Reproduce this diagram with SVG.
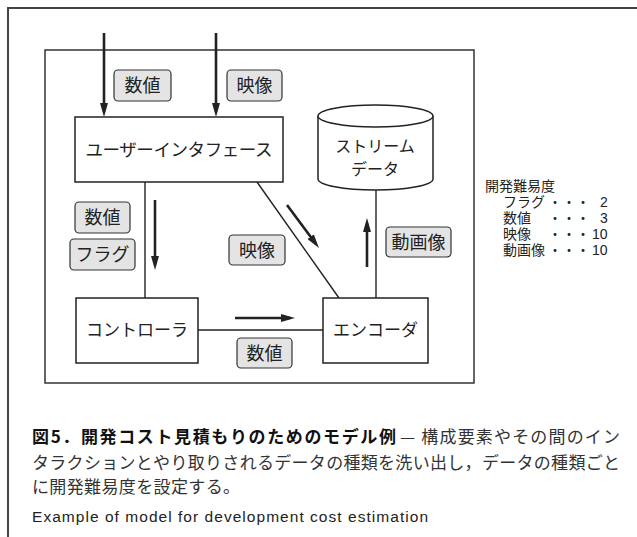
<svg xmlns="http://www.w3.org/2000/svg" width="637" height="537" viewBox="0 0 637 537">
<style>
.frame{fill:none;stroke:#444;stroke-width:2}
.inner{fill:none;stroke:#333;stroke-width:1.5}
.box{fill:#fff;stroke:#222;stroke-width:1.5}
.lbl{fill:#e4e4e4;stroke:#333;stroke-width:1.2}
.ln{fill:none;stroke:#222;stroke-width:1.4}
.arr{fill:none;stroke:#222;stroke-width:2.6;marker-end:url(#ah)}
.t{font-family:"Noto Sans CJK JP","Noto Sans",sans-serif;fill:#222;text-anchor:middle}
.lg{font-family:"Liberation Sans","Noto Sans CJK JP",sans-serif;fill:#222;font-size:14px}
.cap{font-family:"Noto Sans CJK JP",sans-serif;font-size:17px}
</style>
<defs>
<marker id="ah" markerUnits="userSpaceOnUse" markerWidth="15" markerHeight="8" refX="9" refY="4" orient="auto">
<path d="M0,0 L14,4 L0,8 z" fill="#222"/>
</marker>
</defs>
<rect width="637" height="537" fill="#fff"/>
<path class="frame" d="M8,537 V8 H637"/>
<rect class="inner" x="45" y="50" width="429" height="333"/>

<g id="connectors">
<line class="ln" x1="145" y1="182" x2="145" y2="298"/>
<line class="ln" x1="257" y1="182" x2="339" y2="298"/>
<line class="ln" x1="376" y1="190" x2="376" y2="298"/>
<line class="ln" x1="198" y1="330" x2="323" y2="330"/>
<line class="arr" x1="104" y1="33" x2="104" y2="112"/>
<line class="arr" x1="216" y1="33" x2="216" y2="112"/>
<line class="arr" x1="155" y1="200" x2="155" y2="265"/>
<line class="arr" x1="287" y1="205" x2="316" y2="244"/>
<line class="arr" x1="367" y1="267" x2="367" y2="223"/>
<line class="arr" x1="235" y1="318" x2="290" y2="318"/>
</g>

<g id="ui">
<rect class="box" x="75" y="117" width="208" height="65"/>
<text class="t" x="179" y="156" font-size="17.5" textLength="187">ユーザーインタフェース</text>
</g>
<g id="stream">
<path class="box" d="M318,116 V179 A57.5,11 0 0 0 433,179 V116"/>
<ellipse class="box" cx="375.5" cy="116" rx="57.5" ry="11"/>
<text class="t" font-size="16"><tspan x="375" y="152">ストリーム</tspan><tspan x="375" y="175">データ</tspan></text>
</g>
<g id="controller">
<rect class="box" x="76" y="298" width="122" height="65"/>
<text class="t" x="137" y="336" font-size="17">コントローラ</text>
</g>
<g id="encoder">
<rect class="box" x="323" y="298" width="105" height="65"/>
<text class="t" x="375.5" y="336" font-size="17">エンコーダ</text>
</g>

<g id="label-top-num">
<rect class="lbl" x="114" y="70" width="57" height="31" rx="4"/>
<text class="t" x="142.5" y="92" font-size="18">数値</text>
</g>
<g id="label-top-img">
<rect class="lbl" x="227" y="70" width="55" height="31" rx="4"/>
<text class="t" x="254.5" y="92" font-size="18">映像</text>
</g>
<g id="label-left-num">
<rect class="lbl" x="75" y="202" width="55" height="31" rx="4"/>
<text class="t" x="102.5" y="224" font-size="18">数値</text>
</g>
<g id="label-left-flag">
<rect class="lbl" x="70" y="239" width="65" height="31" rx="4"/>
<text class="t" x="102.5" y="261" font-size="18">フラグ</text>
</g>
<g id="label-mid-img">
<rect class="lbl" x="229" y="235" width="56" height="30" rx="4"/>
<text class="t" x="257" y="257" font-size="18">映像</text>
</g>
<g id="label-video">
<rect class="lbl" x="386" y="227" width="65" height="30" rx="4"/>
<text class="t" x="418.5" y="249" font-size="18">動画像</text>
</g>
<g id="label-bottom-num">
<rect class="lbl" x="237" y="338" width="55" height="30" rx="4"/>
<text class="t" x="264.5" y="360" font-size="18">数値</text>
</g>

<g id="legend">
<text class="lg"><tspan x="485" y="191">開発難易度</tspan><tspan x="503" y="207">フラグ</tspan><tspan x="548">・・・</tspan><tspan x="600">2</tspan><tspan x="503" y="223">数値</tspan><tspan x="548">・・・</tspan><tspan x="600">3</tspan><tspan x="503" y="239">映像</tspan><tspan x="548">・・・</tspan><tspan x="592">10</tspan><tspan x="503" y="255">動画像</tspan><tspan x="548">・・・</tspan><tspan x="592">10</tspan></text>
</g>

<g id="caption">
<text class="cap" x="32" y="443" font-weight="bold" fill="#111" textLength="364" lengthAdjust="spacing">図5．開発コスト見積もりのためのモデル例</text>
<text class="cap" x="400" y="443" fill="#333" textLength="220" lengthAdjust="spacing">— 構成要素やその間のイン</text>
<text class="cap" x="32" y="469" fill="#333" textLength="588" lengthAdjust="spacing">タラクションとやり取りされるデータの種類を洗い出し，データの種類ごと</text>
<text class="cap" x="32" y="493" fill="#333" textLength="208" lengthAdjust="spacing">に開発難易度を設定する。</text>
<text x="32" y="522" font-family="Liberation Sans, Arial, sans-serif" font-size="15.5" fill="#222" textLength="396" lengthAdjust="spacing">Example of model for development cost estimation</text>
</g>
</svg>
